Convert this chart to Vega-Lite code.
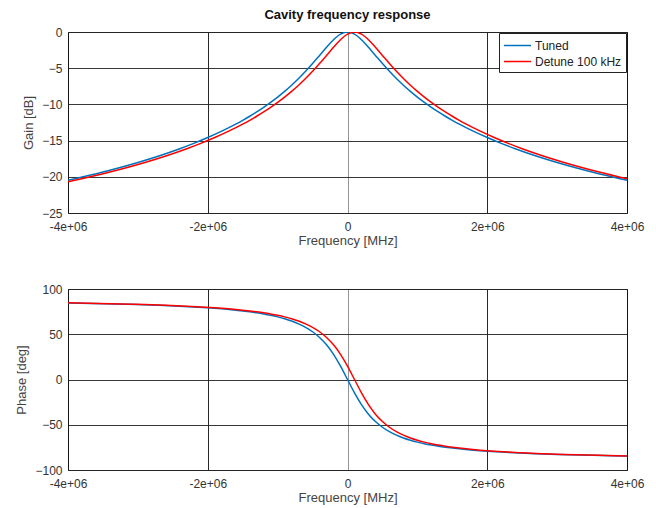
{
 "$schema": "https://vega.github.io/schema/vega-lite/v6.json",
 "padding": {"left": 15, "top": 8, "right": 5, "bottom": 2},
 "spacing": 34,
 "config": {
  "font": "Liberation Sans",
  "view": {"stroke": "#333", "strokeWidth": 1},
  "axis": {"labelFontSize": 12, "labelColor": "#333", "titleFontSize": 13, "titleColor": "#444", "titleFontWeight": "normal", "gridColor": "#222", "gridOpacity": 0.9, "domain": false, "ticks": false, "labelFlush": false},
  "axisX": {"labelPadding": 8, "titlePadding": 2},
  "axisY": {"labelPadding": 6, "titlePadding": 6}
 },
 "datasets": {"d": [
  {"s":"Tuned","f":-4000000,"g":-20.485,"p":84.57},
  {"s":"Tuned","f":-3500000,"g":-19.337,"p":83.80},
  {"s":"Tuned","f":-3000000,"g":-18.016,"p":82.78},
  {"s":"Tuned","f":-2700000,"g":-17.117,"p":81.99},
  {"s":"Tuned","f":-2400000,"g":-16.116,"p":81.00},
  {"s":"Tuned","f":-2200000,"g":-15.380,"p":80.20},
  {"s":"Tuned","f":-2000000,"g":-14.579,"p":79.24},
  {"s":"Tuned","f":-1800000,"g":-13.699,"p":78.08},
  {"s":"Tuned","f":-1600000,"g":-12.725,"p":76.64},
  {"s":"Tuned","f":-1500000,"g":-12.196,"p":75.78},
  {"s":"Tuned","f":-1400000,"g":-11.636,"p":74.81},
  {"s":"Tuned","f":-1300000,"g":-11.039,"p":73.71},
  {"s":"Tuned","f":-1200000,"g":-10.403,"p":72.43},
  {"s":"Tuned","f":-1100000,"g":-9.722,"p":70.94},
  {"s":"Tuned","f":-1000000,"g":-8.990,"p":69.19},
  {"s":"Tuned","f":-900000,"g":-8.202,"p":67.11},
  {"s":"Tuned","f":-800000,"g":-7.350,"p":64.59},
  {"s":"Tuned","f":-700000,"g":-6.428,"p":61.50},
  {"s":"Tuned","f":-600000,"g":-5.432,"p":57.65},
  {"s":"Tuned","f":-500000,"g":-4.364,"p":52.77},
  {"s":"Tuned","f":-400000,"g":-3.239,"p":46.47},
  {"s":"Tuned","f":-300000,"g":-2.104,"p":38.29},
  {"s":"Tuned","f":-200000,"g":-1.062,"p":27.76},
  {"s":"Tuned","f":-100000,"g":-0.291,"p":14.74},
  {"s":"Tuned","f":0,"g":0,"p":0},
  {"s":"Tuned","f":100000,"g":-0.291,"p":-14.74},
  {"s":"Tuned","f":200000,"g":-1.062,"p":-27.76},
  {"s":"Tuned","f":300000,"g":-2.104,"p":-38.29},
  {"s":"Tuned","f":400000,"g":-3.239,"p":-46.47},
  {"s":"Tuned","f":500000,"g":-4.364,"p":-52.77},
  {"s":"Tuned","f":600000,"g":-5.432,"p":-57.65},
  {"s":"Tuned","f":700000,"g":-6.428,"p":-61.50},
  {"s":"Tuned","f":800000,"g":-7.350,"p":-64.59},
  {"s":"Tuned","f":900000,"g":-8.202,"p":-67.11},
  {"s":"Tuned","f":1000000,"g":-8.990,"p":-69.19},
  {"s":"Tuned","f":1100000,"g":-9.722,"p":-70.94},
  {"s":"Tuned","f":1200000,"g":-10.403,"p":-72.43},
  {"s":"Tuned","f":1300000,"g":-11.039,"p":-73.71},
  {"s":"Tuned","f":1400000,"g":-11.636,"p":-74.81},
  {"s":"Tuned","f":1500000,"g":-12.196,"p":-75.78},
  {"s":"Tuned","f":1600000,"g":-12.725,"p":-76.64},
  {"s":"Tuned","f":1800000,"g":-13.699,"p":-78.08},
  {"s":"Tuned","f":2000000,"g":-14.579,"p":-79.24},
  {"s":"Tuned","f":2200000,"g":-15.380,"p":-80.20},
  {"s":"Tuned","f":2400000,"g":-16.116,"p":-81.00},
  {"s":"Tuned","f":2700000,"g":-17.117,"p":-81.99},
  {"s":"Tuned","f":3000000,"g":-18.016,"p":-82.78},
  {"s":"Tuned","f":3500000,"g":-19.337,"p":-83.80},
  {"s":"Tuned","f":4000000,"g":-20.485,"p":-84.57},
  {"s":"Detune 100 kHz","f":-4000000,"g":-20.697,"p":84.70},
  {"s":"Detune 100 kHz","f":-3400000,"g":-19.337,"p":83.80},
  {"s":"Detune 100 kHz","f":-2900000,"g":-18.016,"p":82.78},
  {"s":"Detune 100 kHz","f":-2600000,"g":-17.117,"p":81.99},
  {"s":"Detune 100 kHz","f":-2300000,"g":-16.116,"p":81.00},
  {"s":"Detune 100 kHz","f":-2100000,"g":-15.380,"p":80.20},
  {"s":"Detune 100 kHz","f":-1900000,"g":-14.579,"p":79.24},
  {"s":"Detune 100 kHz","f":-1700000,"g":-13.699,"p":78.08},
  {"s":"Detune 100 kHz","f":-1500000,"g":-12.725,"p":76.64},
  {"s":"Detune 100 kHz","f":-1400000,"g":-12.196,"p":75.78},
  {"s":"Detune 100 kHz","f":-1300000,"g":-11.636,"p":74.81},
  {"s":"Detune 100 kHz","f":-1200000,"g":-11.039,"p":73.71},
  {"s":"Detune 100 kHz","f":-1100000,"g":-10.403,"p":72.43},
  {"s":"Detune 100 kHz","f":-1000000,"g":-9.722,"p":70.94},
  {"s":"Detune 100 kHz","f":-900000,"g":-8.990,"p":69.19},
  {"s":"Detune 100 kHz","f":-800000,"g":-8.202,"p":67.11},
  {"s":"Detune 100 kHz","f":-700000,"g":-7.350,"p":64.59},
  {"s":"Detune 100 kHz","f":-600000,"g":-6.428,"p":61.50},
  {"s":"Detune 100 kHz","f":-500000,"g":-5.432,"p":57.65},
  {"s":"Detune 100 kHz","f":-400000,"g":-4.364,"p":52.77},
  {"s":"Detune 100 kHz","f":-300000,"g":-3.239,"p":46.47},
  {"s":"Detune 100 kHz","f":-200000,"g":-2.104,"p":38.29},
  {"s":"Detune 100 kHz","f":-100000,"g":-1.062,"p":27.76},
  {"s":"Detune 100 kHz","f":0,"g":-0.291,"p":14.74},
  {"s":"Detune 100 kHz","f":100000,"g":0,"p":0},
  {"s":"Detune 100 kHz","f":200000,"g":-0.291,"p":-14.74},
  {"s":"Detune 100 kHz","f":300000,"g":-1.062,"p":-27.76},
  {"s":"Detune 100 kHz","f":400000,"g":-2.104,"p":-38.29},
  {"s":"Detune 100 kHz","f":500000,"g":-3.239,"p":-46.47},
  {"s":"Detune 100 kHz","f":600000,"g":-4.364,"p":-52.77},
  {"s":"Detune 100 kHz","f":700000,"g":-5.432,"p":-57.65},
  {"s":"Detune 100 kHz","f":800000,"g":-6.428,"p":-61.50},
  {"s":"Detune 100 kHz","f":900000,"g":-7.350,"p":-64.59},
  {"s":"Detune 100 kHz","f":1000000,"g":-8.202,"p":-67.11},
  {"s":"Detune 100 kHz","f":1100000,"g":-8.990,"p":-69.19},
  {"s":"Detune 100 kHz","f":1200000,"g":-9.722,"p":-70.94},
  {"s":"Detune 100 kHz","f":1300000,"g":-10.403,"p":-72.43},
  {"s":"Detune 100 kHz","f":1400000,"g":-11.039,"p":-73.71},
  {"s":"Detune 100 kHz","f":1500000,"g":-11.636,"p":-74.81},
  {"s":"Detune 100 kHz","f":1600000,"g":-12.196,"p":-75.78},
  {"s":"Detune 100 kHz","f":1700000,"g":-12.725,"p":-76.64},
  {"s":"Detune 100 kHz","f":1900000,"g":-13.699,"p":-78.08},
  {"s":"Detune 100 kHz","f":2100000,"g":-14.579,"p":-79.24},
  {"s":"Detune 100 kHz","f":2300000,"g":-15.380,"p":-80.20},
  {"s":"Detune 100 kHz","f":2500000,"g":-16.116,"p":-81.00},
  {"s":"Detune 100 kHz","f":2800000,"g":-17.117,"p":-81.99},
  {"s":"Detune 100 kHz","f":3100000,"g":-18.016,"p":-82.78},
  {"s":"Detune 100 kHz","f":3600000,"g":-19.337,"p":-83.80},
  {"s":"Detune 100 kHz","f":4000000,"g":-20.267,"p":-84.44}
 ]},
 "vconcat": [
  {
   "width": 559, "height": 181,
   "title": {"text": "Cavity frequency response", "fontSize": 13, "fontWeight": "bold", "color": "#111", "frame": "group", "offset": 4},
   "data": {"name": "d"},
   "mark": {"type": "line", "strokeWidth": 1.5, "interpolate": "monotone", "clip": true},
   "encoding": {
    "x": {"field": "f", "type": "quantitative", "scale": {"domain": [-4000000, 4000000], "nice": false},
          "axis": {"values": [-4000000, -2000000, 0, 2000000, 4000000], "labelExpr": "datum.value === 0 ? '0' : (datum.value/1000000) + 'e+06'", "title": "Frequency [MHz]",
                   "gridColor": {"condition": {"test": "datum.value === 0", "value": "#888"}, "value": "#111"}}},
    "y": {"field": "g", "type": "quantitative", "scale": {"domain": [-25, 0], "nice": false},
          "axis": {"values": [-25, -20, -15, -10, -5, 0], "title": "Gain [dB]"}},
    "color": {"field": "s", "type": "nominal", "sort": ["Tuned", "Detune 100 kHz"],
              "scale": {"domain": ["Tuned", "Detune 100 kHz"], "range": ["#0072BD", "#FF0000"]},
              "legend": {"title": null, "orient": "top-right", "offset": 1, "symbolType": "M-1.8,0L1.8,0", "symbolSize": 225, "symbolOffset": 6, "symbolStrokeWidth": 1.5, "labelFontSize": 12, "labelColor": "#222", "labelOffset": 9, "strokeColor": "#222", "fillColor": "white", "padding": 4, "rowPadding": 1}}
   }
  },
  {
   "width": 559, "height": 181,
   "data": {"name": "d"},
   "mark": {"type": "line", "strokeWidth": 1.5, "interpolate": "monotone", "clip": true},
   "encoding": {
    "x": {"field": "f", "type": "quantitative", "scale": {"domain": [-4000000, 4000000], "nice": false},
          "axis": {"values": [-4000000, -2000000, 0, 2000000, 4000000], "labelExpr": "datum.value === 0 ? '0' : (datum.value/1000000) + 'e+06'", "title": "Frequency [MHz]",
                   "gridColor": {"condition": {"test": "datum.value === 0", "value": "#888"}, "value": "#111"}}},
    "y": {"field": "p", "type": "quantitative", "scale": {"domain": [-100, 100], "nice": false},
          "axis": {"values": [-100, -50, 0, 50, 100], "title": "Phase [deg]"}},
    "color": {"field": "s", "type": "nominal", "sort": ["Tuned", "Detune 100 kHz"],
              "scale": {"domain": ["Tuned", "Detune 100 kHz"], "range": ["#0072BD", "#FF0000"]},
              "legend": null}
   }
  }
 ]
}
